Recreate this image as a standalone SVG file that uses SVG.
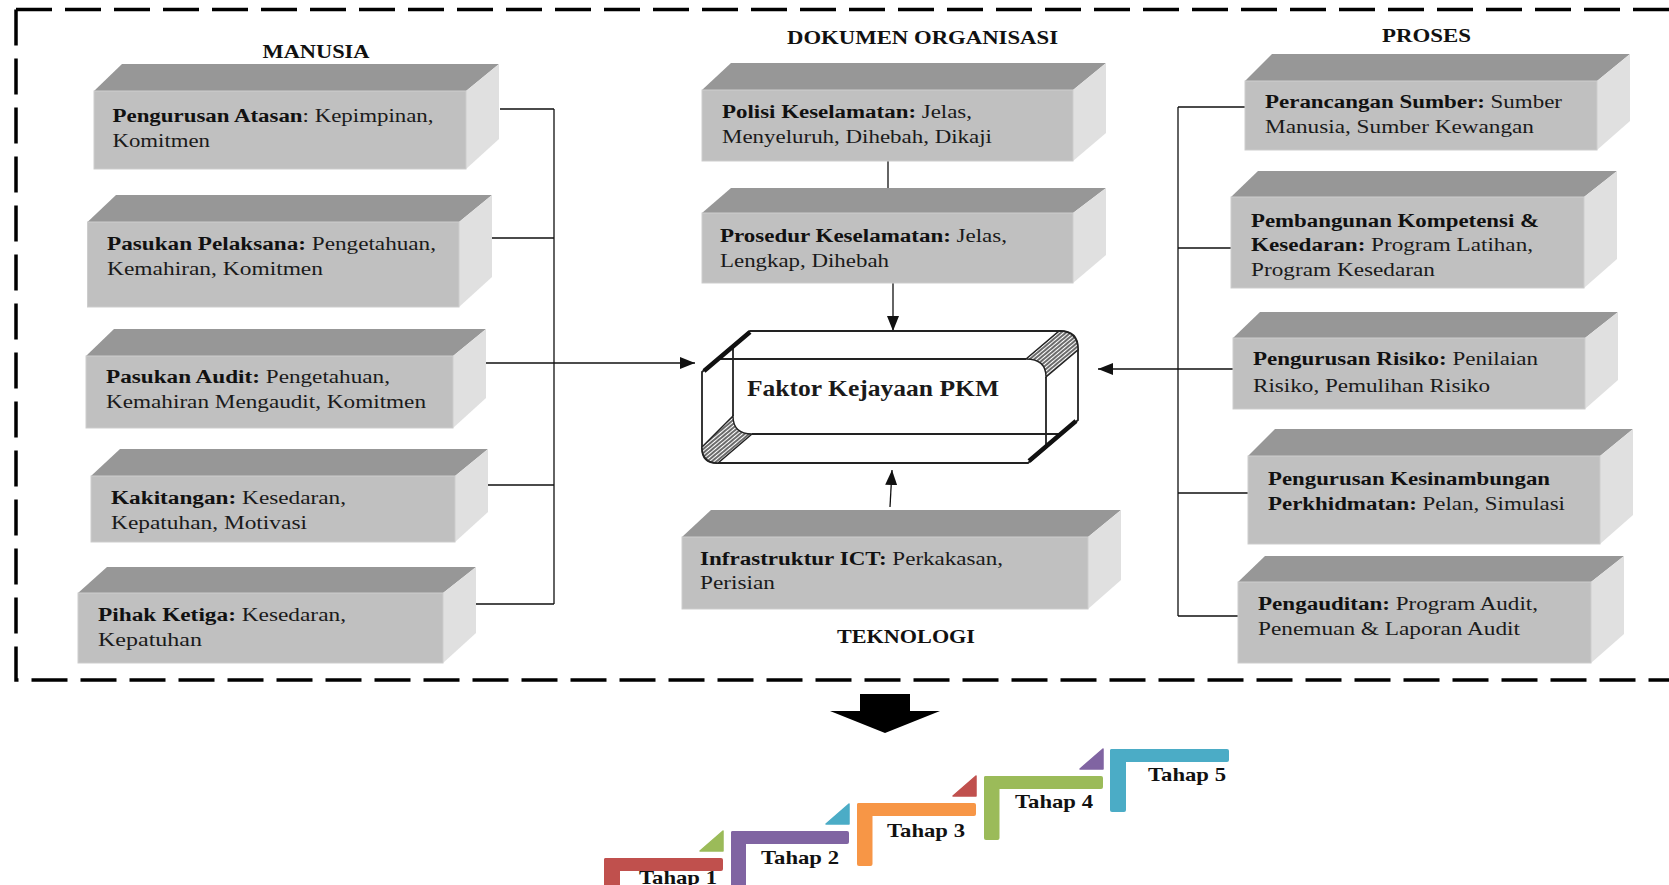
<svg xmlns="http://www.w3.org/2000/svg" width="1669" height="885" viewBox="0 0 1669 885">
  <defs>
    <style>
      text { font-family: "Liberation Serif", "Times New Roman", serif; fill: #1a1a1a; }
      .t { font-size: 18.5px; }
      .b { font-weight: bold; fill: #111; }
      .h { font-size: 19px; font-weight: bold; fill: #111; }
      .top { fill: #979797; }
      .front { fill: #c0c0c0; stroke: #cdcdcd; stroke-width: 1; }
      .side { fill: #e0e0e0; }
      .frame { fill: none; stroke: #000; stroke-width: 3.5; stroke-dasharray: 36 13; }
      .conn { fill: none; stroke: #111; stroke-width: 1.3; }
      .arr { marker-end: url(#arrowhead); }
      .bev { fill: none; stroke: #222; stroke-width: 1.8; }
      .step { font-size: 19px; font-weight: bold; fill: #111; }
    </style>
    <marker id="arrowhead" markerUnits="userSpaceOnUse" markerWidth="15" markerHeight="12" refX="15" refY="6" orient="auto">
      <path d="M0,0 L15,6 L0,12 Z" fill="#111"/>
    </marker>
    <pattern id="hatch" patternUnits="userSpaceOnUse" width="6" height="3" patternTransform="rotate(-40)">
      <rect width="6" height="3" fill="#fff"/>
      <line x1="0" y1="1" x2="6" y2="1" stroke="#1a1a1a" stroke-width="1.3"/>
    </pattern>
  </defs>

  <rect width="1669" height="885" fill="#fff"/>

  <!-- dashed frame (continues past the right edge) -->
  <path class="frame" d="M16,9.5 H1700"/>
  <path class="frame" d="M16,9.5 V680 H1700"/>

  <!-- column headings -->
  <text class="h" x="262.5" y="58" textLength="107" lengthAdjust="spacingAndGlyphs">MANUSIA</text>
  <text class="h" x="787" y="44" textLength="271" lengthAdjust="spacingAndGlyphs">DOKUMEN ORGANISASI</text>
  <text class="h" x="1382" y="42" textLength="89" lengthAdjust="spacingAndGlyphs">PROSES</text>
  <text class="h" x="837" y="643" textLength="138" lengthAdjust="spacingAndGlyphs">TEKNOLOGI</text>

  <!-- connectors -->
  <g id="connectors">
    <path class="conn" d="M500,109 H554 M492,238 H554 M487,485 H554 M476,604 H554 M554,109 V604"/>
    <path class="conn arr" d="M486,363 H695"/>
    <path class="conn" d="M888,161 V188"/>
    <path class="conn arr" d="M893,283 V331"/>
    <path class="conn arr" d="M890,507 L892,470"/>
    <path class="conn" d="M1178,107 V616 M1178,107 H1245 M1178,248 H1237 M1178,369 H1233 M1178,493 H1248 M1178,616 H1238"/>
    <path class="conn arr" d="M1178,369 H1098"/>
  </g>

  <!-- MANUSIA column -->
  <g id="pengurusan-atasan">
    <polygon class="top" points="94,91 122,64 499,64 466,91"/>
    <polygon class="side" points="466,91 499,64 499,139 466,169"/>
    <rect class="front" x="94" y="91" width="372" height="78"/>
    <text class="t" x="112.5" y="122" textLength="321" lengthAdjust="spacingAndGlyphs"><tspan class="b">Pengurusan Atasan</tspan>: Kepimpinan,</text>
    <text class="t" x="112.5" y="147" textLength="97.5" lengthAdjust="spacingAndGlyphs">Komitmen</text>
  </g>
  <g id="pasukan-pelaksana">
    <polygon class="top" points="87.5,222 116,195 492,195 459,222"/>
    <polygon class="side" points="459,222 492,195 492,277 459,307"/>
    <rect class="front" x="87.5" y="222" width="371.5" height="85"/>
    <text class="t" x="107" y="250" textLength="329" lengthAdjust="spacingAndGlyphs"><tspan class="b">Pasukan Pelaksana:</tspan> Pengetahuan,</text>
    <text class="t" x="107" y="275" textLength="216" lengthAdjust="spacingAndGlyphs">Kemahiran, Komitmen</text>
  </g>
  <g id="pasukan-audit">
    <polygon class="top" points="86,356 114,329 486,329 453,356"/>
    <polygon class="side" points="453,356 486,329 486,398 453,428"/>
    <rect class="front" x="86" y="356" width="367" height="72"/>
    <text class="t" x="106" y="383" textLength="284" lengthAdjust="spacingAndGlyphs"><tspan class="b">Pasukan Audit:</tspan> Pengetahuan,</text>
    <text class="t" x="106" y="408" textLength="320" lengthAdjust="spacingAndGlyphs">Kemahiran Mengaudit, Komitmen</text>
  </g>
  <g id="kakitangan">
    <polygon class="top" points="91,476 120,449 488,449 455,476"/>
    <polygon class="side" points="455,476 488,449 488,512 455,542"/>
    <rect class="front" x="91" y="476" width="364" height="66"/>
    <text class="t" x="111" y="504" textLength="235" lengthAdjust="spacingAndGlyphs"><tspan class="b">Kakitangan:</tspan> Kesedaran,</text>
    <text class="t" x="111" y="529" textLength="196" lengthAdjust="spacingAndGlyphs">Kepatuhan, Motivasi</text>
  </g>
  <g id="pihak-ketiga">
    <polygon class="top" points="78,593 107,567 476,567 443,593"/>
    <polygon class="side" points="443,593 476,567 476,633 443,663"/>
    <rect class="front" x="78" y="593" width="365" height="70"/>
    <text class="t" x="98" y="621" textLength="248" lengthAdjust="spacingAndGlyphs"><tspan class="b">Pihak Ketiga:</tspan> Kesedaran,</text>
    <text class="t" x="98" y="646" textLength="104" lengthAdjust="spacingAndGlyphs">Kepatuhan</text>
  </g>

  <!-- DOKUMEN ORGANISASI column -->
  <g id="polisi-keselamatan">
    <polygon class="top" points="702,90 731,63 1106,63 1073,90"/>
    <polygon class="side" points="1073,90 1106,63 1106,133 1073,161"/>
    <rect class="front" x="702" y="90" width="371" height="71"/>
    <text class="t" x="722" y="118" textLength="250" lengthAdjust="spacingAndGlyphs"><tspan class="b">Polisi Keselamatan:</tspan> Jelas,</text>
    <text class="t" x="722" y="143" textLength="270" lengthAdjust="spacingAndGlyphs">Menyeluruh, Dihebah, Dikaji</text>
  </g>
  <g id="prosedur-keselamatan">
    <polygon class="top" points="702,213 731,188 1106,188 1073,213"/>
    <polygon class="side" points="1073,213 1106,188 1106,255 1073,283"/>
    <rect class="front" x="702" y="213" width="371" height="70"/>
    <text class="t" x="720" y="242" textLength="287" lengthAdjust="spacingAndGlyphs"><tspan class="b">Prosedur Keselamatan:</tspan> Jelas,</text>
    <text class="t" x="720" y="267" textLength="169" lengthAdjust="spacingAndGlyphs">Lengkap, Dihebah</text>
  </g>

  <!-- central bevel -->
  <g id="faktor-kejayaan">
    <path d="M750,331 H1060 Q1078,331 1078,349 V420 L1028,463 H717 Q702,463 702,448 V372 Z" fill="#fff" stroke="#222" stroke-width="1.8"/>
    <path d="M1026,359 L1059,331 Q1078,331 1078,350 L1046,377 Q1046,359 1026,359 Z" fill="url(#hatch)" stroke="#222" stroke-width="1.4"/>
    <path d="M733,416 Q733,434 752,434 L718,463 Q702,463 702,447 Z" fill="url(#hatch)" stroke="#222" stroke-width="1.4"/>
    <path class="bev" d="M717,359 H1026 M1046,377 V447 M733,346 V416 M752,434 H1061"/>
    <path d="M704,371 L750,332 M1076,421 L1029,461" stroke="#111" stroke-width="4.5" fill="none"/>
    <text x="747" y="396" font-size="22.5" font-weight="bold" fill="#111" textLength="252" lengthAdjust="spacingAndGlyphs">Faktor Kejayaan PKM</text>
  </g>

  <!-- TEKNOLOGI -->
  <g id="infrastruktur-ict">
    <polygon class="top" points="682,537 711,510 1121,510 1088,537"/>
    <polygon class="side" points="1088,537 1121,510 1121,580 1088,609"/>
    <rect class="front" x="682" y="537" width="406" height="72"/>
    <text class="t" x="700" y="565" textLength="303" lengthAdjust="spacingAndGlyphs"><tspan class="b">Infrastruktur ICT:</tspan> Perkakasan,</text>
    <text class="t" x="700" y="589" textLength="75" lengthAdjust="spacingAndGlyphs">Perisian</text>
  </g>

  <!-- PROSES column -->
  <g id="perancangan-sumber">
    <polygon class="top" points="1245,81 1272,54 1630,54 1597,81"/>
    <polygon class="side" points="1597,81 1630,54 1630,121 1597,150"/>
    <rect class="front" x="1245" y="81" width="352" height="69"/>
    <text class="t" x="1265" y="108" textLength="297" lengthAdjust="spacingAndGlyphs"><tspan class="b">Perancangan Sumber:</tspan> Sumber</text>
    <text class="t" x="1265" y="133" textLength="269" lengthAdjust="spacingAndGlyphs">Manusia, Sumber Kewangan</text>
  </g>
  <g id="pembangunan-kompetensi">
    <polygon class="top" points="1231,197 1258,171 1617,171 1584,197"/>
    <polygon class="side" points="1584,197 1617,171 1617,259 1584,288"/>
    <rect class="front" x="1231" y="197" width="353" height="91"/>
    <text class="t b" x="1251" y="227" textLength="288" lengthAdjust="spacingAndGlyphs">Pembangunan Kompetensi &amp;</text>
    <text class="t" x="1251" y="251" textLength="282" lengthAdjust="spacingAndGlyphs"><tspan class="b">Kesedaran:</tspan> Program Latihan,</text>
    <text class="t" x="1251" y="276" textLength="184" lengthAdjust="spacingAndGlyphs">Program Kesedaran</text>
  </g>
  <g id="pengurusan-risiko">
    <polygon class="top" points="1233,338 1260,312 1618,312 1585,338"/>
    <polygon class="side" points="1585,338 1618,312 1618,380 1585,409"/>
    <rect class="front" x="1233" y="338" width="352" height="71"/>
    <text class="t" x="1253" y="365" textLength="285" lengthAdjust="spacingAndGlyphs"><tspan class="b">Pengurusan Risiko:</tspan> Penilaian</text>
    <text class="t" x="1253" y="392" textLength="237" lengthAdjust="spacingAndGlyphs">Risiko, Pemulihan Risiko</text>
  </g>
  <g id="pengurusan-kesinambungan">
    <polygon class="top" points="1248,456 1275,429 1633,429 1600,456"/>
    <polygon class="side" points="1600,456 1633,429 1633,515 1600,544"/>
    <rect class="front" x="1248" y="456" width="352" height="88"/>
    <text class="t b" x="1268" y="485" textLength="282" lengthAdjust="spacingAndGlyphs">Pengurusan Kesinambungan</text>
    <text class="t" x="1268" y="510" textLength="297" lengthAdjust="spacingAndGlyphs"><tspan class="b">Perkhidmatan:</tspan> Pelan, Simulasi</text>
  </g>
  <g id="pengauditan">
    <polygon class="top" points="1238,582 1265,556 1624,556 1591,582"/>
    <polygon class="side" points="1591,582 1624,556 1624,634 1591,663"/>
    <rect class="front" x="1238" y="582" width="353" height="81"/>
    <text class="t" x="1258" y="610" textLength="280" lengthAdjust="spacingAndGlyphs"><tspan class="b">Pengauditan:</tspan> Program Audit,</text>
    <text class="t" x="1258" y="635" textLength="262" lengthAdjust="spacingAndGlyphs">Penemuan &amp; Laporan Audit</text>
  </g>

  <!-- block arrow -->
  <polygon id="down-arrow" points="860,694 910,694 910,711 940,711 885,733 830,711 860,711" fill="#000"/>

  <!-- staircase -->
  <g id="tahap-1">
    <rect x="604" y="858" width="119" height="13" rx="2" fill="#c0504d"/>
    <rect x="604" y="858" width="16" height="40" rx="2" fill="#c0504d"/>
    <path d="M700,851 L723,831 V851 Z" fill="#9bbb59" stroke="#9bbb59" stroke-width="1.5" stroke-linejoin="round"/>
    <text class="step" x="639" y="884" textLength="78" lengthAdjust="spacingAndGlyphs">Tahap 1</text>
  </g>
  <g id="tahap-2">
    <rect x="731" y="831" width="118" height="13" rx="2" fill="#8064a2"/>
    <rect x="731" y="831" width="15" height="60" rx="2" fill="#8064a2"/>
    <path d="M826,824 L849,804 V824 Z" fill="#4bacc6" stroke="#4bacc6" stroke-width="1.5" stroke-linejoin="round"/>
    <text class="step" x="761" y="864" textLength="78" lengthAdjust="spacingAndGlyphs">Tahap 2</text>
  </g>
  <g id="tahap-3">
    <rect x="857" y="803" width="119" height="13" rx="2" fill="#f79646"/>
    <rect x="857" y="803" width="15.5" height="63" rx="2" fill="#f79646"/>
    <path d="M953,796 L976,776 V796 Z" fill="#c0504d" stroke="#c0504d" stroke-width="1.5" stroke-linejoin="round"/>
    <text class="step" x="887" y="837" textLength="78" lengthAdjust="spacingAndGlyphs">Tahap 3</text>
  </g>
  <g id="tahap-4">
    <rect x="984" y="776" width="119" height="13" rx="2" fill="#9bbb59"/>
    <rect x="984" y="776" width="15.5" height="64" rx="2" fill="#9bbb59"/>
    <path d="M1080,769 L1103,749 V769 Z" fill="#8064a2" stroke="#8064a2" stroke-width="1.5" stroke-linejoin="round"/>
    <text class="step" x="1015" y="808" textLength="78" lengthAdjust="spacingAndGlyphs">Tahap 4</text>
  </g>
  <g id="tahap-5">
    <rect x="1110" y="749" width="119" height="13" rx="2" fill="#4bacc6"/>
    <rect x="1110" y="749" width="16" height="63" rx="2" fill="#4bacc6"/>
    <text class="step" x="1148" y="781" textLength="78" lengthAdjust="spacingAndGlyphs">Tahap 5</text>
  </g>
</svg>
